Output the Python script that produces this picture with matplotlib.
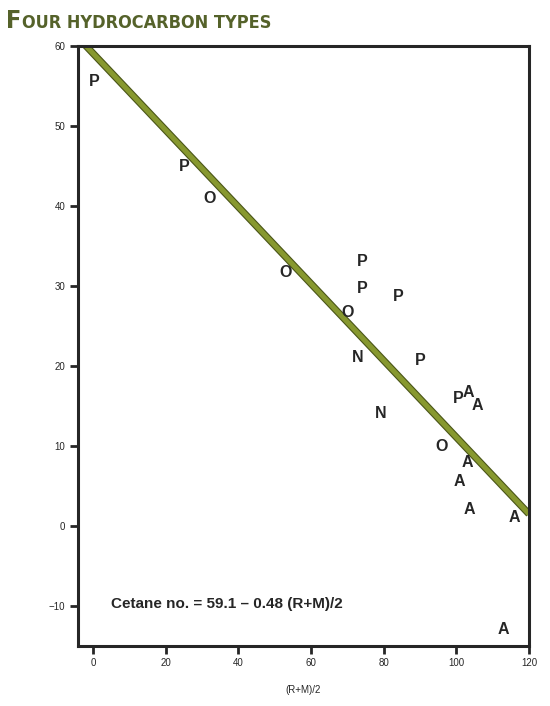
import numpy as np
import matplotlib.pyplot as plt
import matplotlib.patheffects as pe

# Hydrocarbon samples: x = (R+M)/2 octane index, y = cetane number
p_x = [0.5, 25.1, 74.1, 74.1, 84.0, 90.1, 100.6]
p_y = [55.6, 45.0, 33.1, 29.75, 28.75, 20.75, 16.0]
o_x = [32.0, 52.9, 70.0, 95.9]
o_y = [41.0, 31.75, 26.75, 9.9]
n_x = [73.0, 79.3]
n_y = [21.1, 14.1]
a_x = [103.3, 105.8, 103.0, 100.8, 103.6, 116.0, 113.0]
a_y = [16.75, 15.1, 8.0, 5.6, 2.1, 1.1, -13.0]

# Regression: cetane = 59.1 - 0.48 (R+M)/2
intercept = 59.1
slope = -0.48

x_ticks = [0, 20, 40, 60, 80, 100, 120]
y_ticks = [-10, 0, 10, 20, 30, 40, 50, 60]

plt.rcParams['font.family'] = ['Liberation Sans', 'DejaVu Sans']

fig = plt.figure(figsize=(5.5, 7.06), dpi=100)
ax = fig.add_axes([0.1418, 0.085, 0.82, 0.8498])

ax.set_xlim(-4.1, 120)
ax.set_ylim(-15, 60)

ink = '#262626'
for sp in ax.spines.values():
    sp.set_linewidth(2.2)
    sp.set_color(ink)

ax.set_xticks(x_ticks)
ax.set_yticks(y_ticks)
ax.set_yticklabels(['\u221210' if v < 0 else str(v) for v in y_ticks])
ax.tick_params(direction='out', length=6, width=2, color=ink,
               labelsize=7, labelcolor=ink, pad=3)
ax.set_xlabel('(R+M)/2', fontsize=7, color=ink, labelpad=12)

# Fit line
lx = np.array([-4.1, 120.0])
ly = intercept + slope * lx
ax.plot(lx, ly, color='#87982f', lw=3.6, solid_capstyle='butt', zorder=2,
        path_effects=[pe.Stroke(linewidth=5.2, foreground='#4a5518'), pe.Normal()],
        clip_on=True)

# Sample letters
for xs, ys, lab in [(p_x, p_y, 'P'), (o_x, o_y, 'O'), (n_x, n_y, 'N'), (a_x, a_y, 'A')]:
    for x, y in zip(xs, ys):
        ax.text(x, y, lab, ha='center', va='center', fontsize=11.5,
                fontweight='bold', color=ink, zorder=3)

ax.text(5.0, -9.8, 'Cetane no. = 59.1 \u2013 0.48 (R+M)/2', ha='left', va='center',
        fontsize=11, fontweight='bold', color=ink)

# Small-caps title in a condensed face
title_color = '#55622a'
fam = ['DejaVu Sans']
t1 = fig.text(6 / 550, 1 - 28 / 706, 'F', fontsize=18, fontweight='bold',
              fontstretch='condensed', family=fam, color=title_color,
              ha='left', va='baseline')
fig.canvas.draw()
bb = t1.get_window_extent()
fig.text(bb.x1 / (5.5 * 100) + 0.001, 1 - 28 / 706, 'OUR HYDROCARBON TYPES',
         fontsize=13, fontweight='bold', fontstretch='condensed', family=fam,
         color=title_color, ha='left', va='baseline')

fig.savefig('out.png', dpi=100)
